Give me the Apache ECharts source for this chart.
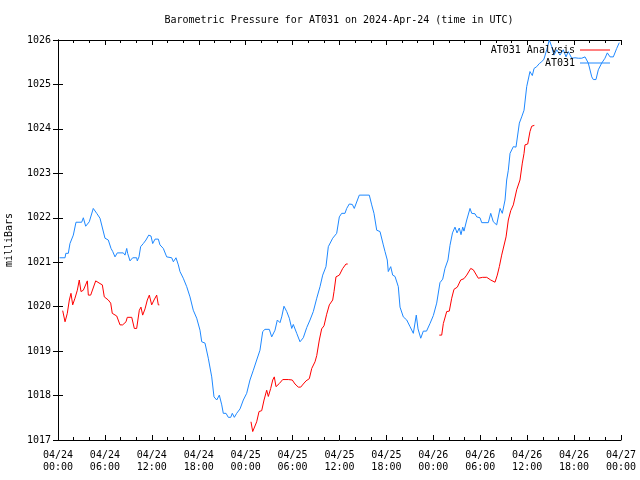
<!DOCTYPE html>
<html>
<head>
<meta charset="utf-8">
<script src="https://cdn.jsdelivr.net/npm/echarts@6/dist/echarts.min.js"></script>
<style>html,body{margin:0;padding:0;background:#fff}#c{width:640px;height:480px}</style>
</head>
<body>
<div id="c"></div>
<script>
// hours since 04/24 00:00 UTC
var tickLabels = ['04/24\n00:00','04/24\n06:00','04/24\n12:00','04/24\n18:00','04/25\n00:00','04/25\n06:00','04/25\n12:00','04/25\n18:00','04/26\n00:00','04/26\n06:00','04/26\n12:00','04/26\n18:00','04/27\n00:00'];

var blueHours = [0.2,0.9,1.0,1.32,1.53,1.96,2.3,3.03,3.24,3.54,4.0,4.51,4.95,5.37,6.01,6.43,6.78,7.0,7.29,7.58,8.35,8.57,8.79,8.91,9.21,9.55,10.06,10.14,10.36,10.57,10.91,11.25,11.6,11.89,12.11,12.41,12.83,13.04,13.47,13.9,14.54,14.75,15.09,15.39,15.6,16.02,16.46,16.88,17.3,17.74,18.16,18.38,18.8,19.22,19.66,19.95,20.3,20.63,20.94,21.14,21.49,21.78,22.09,22.29,22.55,22.85,23.28,23.7,24.13,24.55,24.98,25.41,25.83,26.18,26.47,27.02,27.33,27.75,28.05,28.39,28.61,28.9,29.25,29.58,29.89,30.09,30.53,30.95,31.37,31.81,32.23,32.65,33.09,33.51,33.85,34.27,34.57,34.79,35.13,35.64,35.98,36.28,36.7,36.92,37.25,37.64,37.89,38.11,38.53,39.81,40.12,40.41,40.76,41.18,41.6,41.82,42.11,42.24,42.55,42.8,43.1,43.52,43.74,44.16,44.6,45.02,45.44,45.57,45.82,46.04,46.39,46.72,47.13,47.57,48.0,48.43,48.85,49.2,49.49,49.87,50.13,50.45,50.77,51.03,51.32,51.54,51.76,51.92,52.27,52.69,52.91,53.33,53.55,53.97,54.19,55.03,55.34,55.67,56.1,56.53,56.82,57.17,57.38,57.59,57.81,58.23,58.57,59.0,59.3,59.6,59.94,60.36,60.66,60.88,61.22,61.55,61.86,62.15,62.5,62.83,63.14,63.43,63.78,64.2,64.62,64.97,65.26,65.7,66.12,66.54,66.98,67.4,67.82,68.26,68.46,68.8,69.1,69.53,69.95,70.25,70.6,71.02,71.45,71.78];
var blueValues = [1021.1,1021.1,1021.2,1021.2,1021.42,1021.61,1021.9,1021.9,1022.0,1021.81,1021.91,1022.21,1022.1,1021.99,1021.54,1021.5,1021.31,1021.24,1021.12,1021.21,1021.21,1021.16,1021.31,1021.2,1021.03,1021.1,1021.1,1021.03,1021.12,1021.35,1021.42,1021.5,1021.61,1021.59,1021.42,1021.52,1021.52,1021.39,1021.31,1021.12,1021.1,1021.01,1021.1,1020.94,1020.79,1020.64,1020.45,1020.22,1019.92,1019.74,1019.47,1019.21,1019.18,1018.84,1018.42,1017.97,1017.9,1018.01,1017.79,1017.6,1017.6,1017.51,1017.51,1017.6,1017.51,1017.6,1017.7,1017.9,1018.05,1018.35,1018.57,1018.8,1019.02,1019.44,1019.49,1019.49,1019.32,1019.47,1019.7,1019.64,1019.77,1020.01,1019.89,1019.74,1019.51,1019.6,1019.4,1019.21,1019.3,1019.53,1019.7,1019.89,1020.19,1020.45,1020.71,1020.9,1021.35,1021.35,1021.54,1021.65,1022.02,1022.1,1022.1,1022.21,1022.31,1022.3,1022.21,1022.22,1022.51,1022.51,1022.29,1022.1,1021.72,1021.69,1021.39,1021.24,1021.05,1020.79,1020.9,1020.71,1020.68,1020.45,1019.99,1019.77,1019.7,1019.55,1019.4,1019.43,1019.81,1019.5,1019.29,1019.45,1019.45,1019.62,1019.8,1020.08,1020.54,1020.62,1020.86,1021.05,1021.38,1021.66,1021.79,1021.66,1021.77,1021.62,1021.79,1021.7,1021.95,1022.21,1022.1,1022.09,1022.02,1022.0,1021.89,1021.89,1022.1,1021.91,1021.84,1022.21,1022.1,1022.4,1022.85,1023.07,1023.45,1023.6,1023.59,1024.13,1024.27,1024.42,1024.95,1025.29,1025.2,1025.36,1025.4,1025.47,1025.51,1025.57,1025.78,1026.0,1025.85,1025.66,1025.78,1025.66,1025.78,1025.62,1025.74,1025.59,1025.6,1025.59,1025.59,1025.62,1025.48,1025.17,1025.11,1025.11,1025.33,1025.48,1025.59,1025.71,1025.62,1025.62,1025.81,1025.94];

// null marks a gap in the record
var redHours = [0.6,0.9,1.19,1.45,1.66,1.88,2.17,2.47,2.72,2.94,3.24,3.75,3.88,4.18,4.82,5.37,5.67,5.92,6.43,6.74,6.94,7.51,7.93,8.27,8.7,8.86,9.43,9.76,10.06,10.4,10.61,10.83,11.13,11.42,11.68,11.98,12.28,12.62,12.83,12.96,
  18.0,
  24.68,24.9,25.1,25.41,25.71,26.05,26.35,26.69,26.9,27.2,27.46,27.66,27.88,28.3,28.74,29.45,29.96,30.31,30.73,31.04,31.37,31.72,32.14,32.45,32.87,33.09,33.42,33.72,34.02,34.36,34.7,35.13,35.3,35.55,35.98,36.41,36.83,37.05,
  43.0,
  48.76,49.07,49.28,49.71,50.04,50.35,50.64,51.07,51.5,51.92,52.27,52.78,53.11,53.75,54.31,54.83,55.34,55.89,56.18,56.44,56.74,56.95,57.3,57.59,57.9,58.23,58.66,59.08,59.38,59.6,59.72,60.07,60.36,60.58,60.92];
var redValues = [1019.91,1019.66,1019.85,1020.15,1020.3,1020.04,1020.19,1020.37,1020.6,1020.34,1020.37,1020.58,1020.26,1020.26,1020.58,1020.52,1020.49,1020.22,1020.15,1020.08,1019.85,1019.79,1019.59,1019.59,1019.66,1019.76,1019.76,1019.51,1019.51,1019.92,1019.99,1019.81,1019.95,1020.15,1020.26,1020.04,1020.15,1020.26,1020.04,1020.04,
  null,
  1017.41,1017.19,1017.19,1017.41,1017.64,1017.66,1017.9,1018.12,1017.98,1018.16,1018.35,1018.42,1018.2,1018.27,1018.36,1018.36,1018.35,1018.26,1018.19,1018.19,1018.26,1018.33,1018.38,1018.61,1018.76,1018.9,1019.25,1019.5,1019.57,1019.83,1020.04,1020.15,1020.34,1020.67,1020.71,1020.86,1020.96,1020.96,
  null,
  1019.36,1019.36,1019.62,1019.89,1019.9,1020.19,1020.39,1020.44,1020.6,1020.63,1020.71,1020.86,1020.83,1020.64,1020.66,1020.66,1020.6,1020.55,1020.71,1020.9,1021.16,1021.2,1021.57,1021.95,1022.16,1022.29,1022.63,1022.85,1023.23,1023.45,1023.64,1023.66,1023.94,1024.06,1024.08];

function pairs(t, v) { return t.map(function (x, i) { return [x, v[i] === null ? '-' : v[i]]; }); }

var FONT = 'DejaVu Sans Mono';
var chart = echarts.init(document.getElementById('c'), null, {renderer: 'canvas'});
var axisLine = {show: true, lineStyle: {color: '#000', width: 1}};
var legendBase = {
  right: 30, align: 'right', orient: 'vertical', icon: 'rect',
  itemWidth: 30, itemHeight: 1, itemGap: 2, padding: 0,
  textStyle: {fontFamily: FONT, fontSize: 10, color: '#000'}
};
chart.setOption({
  animation: false,
  backgroundColor: '#fff',
  textStyle: {fontFamily: FONT, fontSize: 10, color: '#000'},
  title: {
    text: 'Barometric Pressure for AT031 on 2024-Apr-24 (time in UTC)',
    left: 334, top: 10, textAlign: 'center',
    textStyle: {fontFamily: FONT, fontSize: 10, fontWeight: 'normal', color: '#000'}
  },
  legend: [
    Object.assign({}, legendBase, {data: ['AT031 Analysis'], top: 45}),
    Object.assign({}, legendBase, {data: ['AT031'], top: 58})
  ],
  grid: {left: 58, right: 19, top: 40, bottom: 40, show: false, containLabel: false, outerBoundsMode: 'none'},
  xAxis: [{
    type: 'value', min: 0, max: 72, interval: 6, position: 'bottom',
    axisLine: axisLine,
    axisTick: {show: true, inside: true, length: 5, lineStyle: {color: '#000'}},
    minorTick: {show: true, splitNumber: 3, length: 3, lineStyle: {color: '#000'}},
    splitLine: {show: false},
    axisLabel: {
      margin: 9, lineHeight: 12, color: '#000', fontFamily: FONT, fontSize: 10,
      formatter: function (v) { return tickLabels[Math.round(v / 6)]; }
    }
  }, {
    type: 'value', min: 0, max: 72, interval: 6, position: 'top',
    axisLine: axisLine,
    axisTick: {show: true, inside: true, length: 5, lineStyle: {color: '#000'}},
    minorTick: {show: true, splitNumber: 3, length: 3, lineStyle: {color: '#000'}},
    splitLine: {show: false}, axisLabel: {show: false}
  }],
  yAxis: [{
    type: 'value', min: 1017, max: 1026, interval: 1, position: 'left',
    name: 'milliBars', nameLocation: 'middle', nameGap: 44, nameRotate: 90,
    nameTextStyle: {fontFamily: FONT, fontSize: 10, color: '#000'},
    axisLine: axisLine,
    axisTick: {show: true, inside: true, length: 5, lineStyle: {color: '#000'}},
    splitLine: {show: false},
    axisLabel: {margin: 7, color: '#000', fontFamily: FONT, fontSize: 10,
      formatter: function (v) { return String(v); }}
  }, {
    type: 'value', min: 1017, max: 1026, interval: 1, position: 'right',
    axisLine: axisLine,
    axisTick: {show: true, inside: true, length: 5, lineStyle: {color: '#000'}},
    splitLine: {show: false}, axisLabel: {show: false}
  }],
  series: [{
    name: 'AT031 Analysis', type: 'line', xAxisIndex: 0, yAxisIndex: 0,
    data: pairs(redHours, redValues), showSymbol: false, symbol: 'none', connectNulls: false,
    itemStyle: {color: '#ff0000'}, lineStyle: {color: '#ff0000', width: 1}
  }, {
    name: 'AT031', type: 'line', xAxisIndex: 0, yAxisIndex: 0,
    data: pairs(blueHours, blueValues), showSymbol: false, symbol: 'none',
    itemStyle: {color: '#1e88ff'}, lineStyle: {color: '#1e88ff', width: 1}
  }]
});
</script>
</body>
</html>
